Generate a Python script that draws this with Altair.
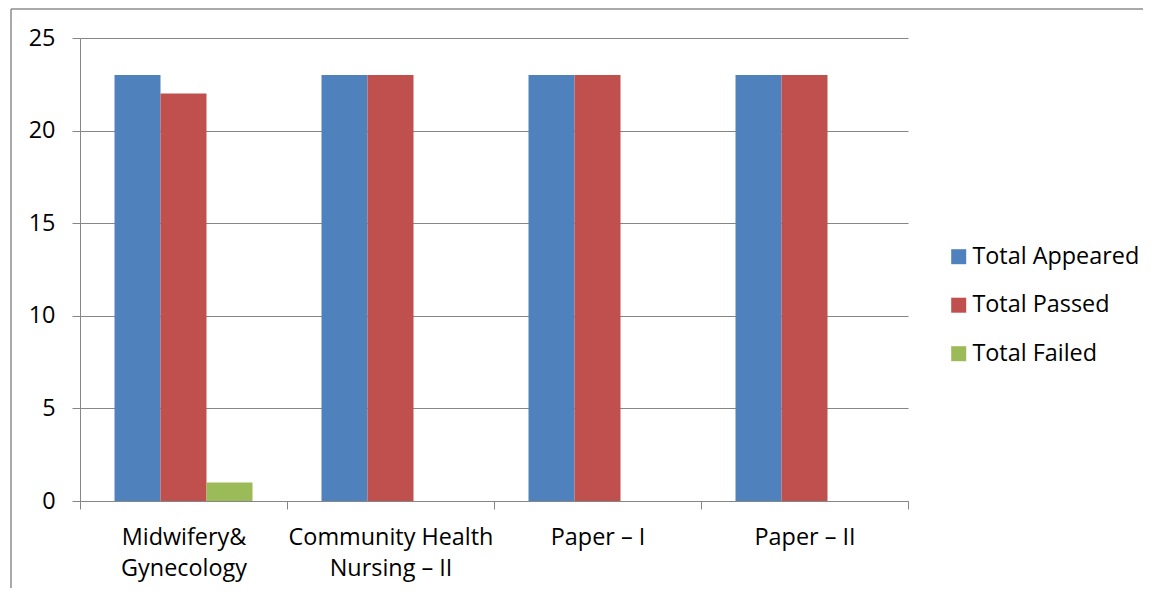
import altair as alt
import pandas as pd

categories = ["Midwifery& Gynecology", "Community Health Nursing – II", "Paper – I", "Paper – II"]
label_lines = [["Midwifery&", "Gynecology"], ["Community Health", "Nursing – II"], ["Paper – I"], ["Paper – II"]]
series = ["Total Appeared", "Total Passed", "Total Failed"]
appeared = [23, 23, 23, 23]
passed = [22, 23, 23, 23]
failed = [1, 0, 0, 0]
colors = ["#4F81BD", "#C0504D", "#9BBB59"]

rows = []
for i, c in enumerate(categories):
    for s, vals in zip(series, [appeared, passed, failed]):
        rows.append({"category": c, "series": s, "value": vals[i]})
df = pd.DataFrame(rows)

expr = ""
for c, lines in zip(categories, label_lines):
    arr = "[" + ",".join("'" + l + "'" for l in lines) + "]"
    expr += f"datum.label == '{c}' ? {arr} : "
expr += "datum.label"

FONT = "Open Sans"
FS = 23.4
GRAY = "#868686"

bars = alt.Chart(df).mark_bar().encode(
    x=alt.X("category:N", sort=categories, title=None,
            scale=alt.Scale(paddingInner=0, paddingOuter=0),
            axis=alt.Axis(labelAngle=0, labelExpr=expr, tickBand="extent", tickSize=8,
                          labelPadding=17, labelLineHeight=31, labelFontSize=FS,
                          labelLimit=0, labelColor="black", labelFont=FONT,
                          domainColor=GRAY, tickColor=GRAY, grid=False)),
    xOffset=alt.XOffset("series:N", sort=series,
                        scale=alt.Scale(paddingOuter=0.75, paddingInner=0)),
    y=alt.Y("value:Q", title=None, scale=alt.Scale(domain=[0, 25]),
            axis=alt.Axis(values=[0, 5, 10, 15, 20, 25], tickSize=8, labelPadding=17,
                          labelFontSize=FS, labelColor="black", labelFont=FONT,
                          domainColor=GRAY, tickColor=GRAY, gridColor=GRAY)),
    color=alt.Color("series:N", sort=series, title=None,
                    scale=alt.Scale(domain=series, range=colors),
                    legend=alt.Legend(orient="none", legendX=867, legendY=207,
                                      symbolType="square", symbolSize=225,
                                      symbolStrokeWidth=0, labelFontSize=FS,
                                      labelFont=FONT, labelColor="black", labelLimit=0,
                                      rowPadding=23.5, padding=0, labelOffset=2)),
)

frame_df = pd.DataFrame({"a": [0]})
top_line = alt.Chart(frame_df).mark_rule(color="#8c8c8c", strokeWidth=1.5).encode(
    x=alt.value(-69), x2=alt.value(1200), y=alt.value(-29))
left_line = alt.Chart(frame_df).mark_rule(color="#8c8c8c", strokeWidth=1.5).encode(
    x=alt.value(-69), y=alt.value(-29), y2=alt.value(700))

chart = alt.layer(top_line, left_line, bars).properties(
    width=828, height=463,
    autosize=alt.AutoSizeParams(type="none"),
    padding={"left": 72, "top": 30, "right": 235, "bottom": 87},
).configure_view(stroke=None)

chart.save("out.html", embed_options={"renderer": "svg", "actions": False})
